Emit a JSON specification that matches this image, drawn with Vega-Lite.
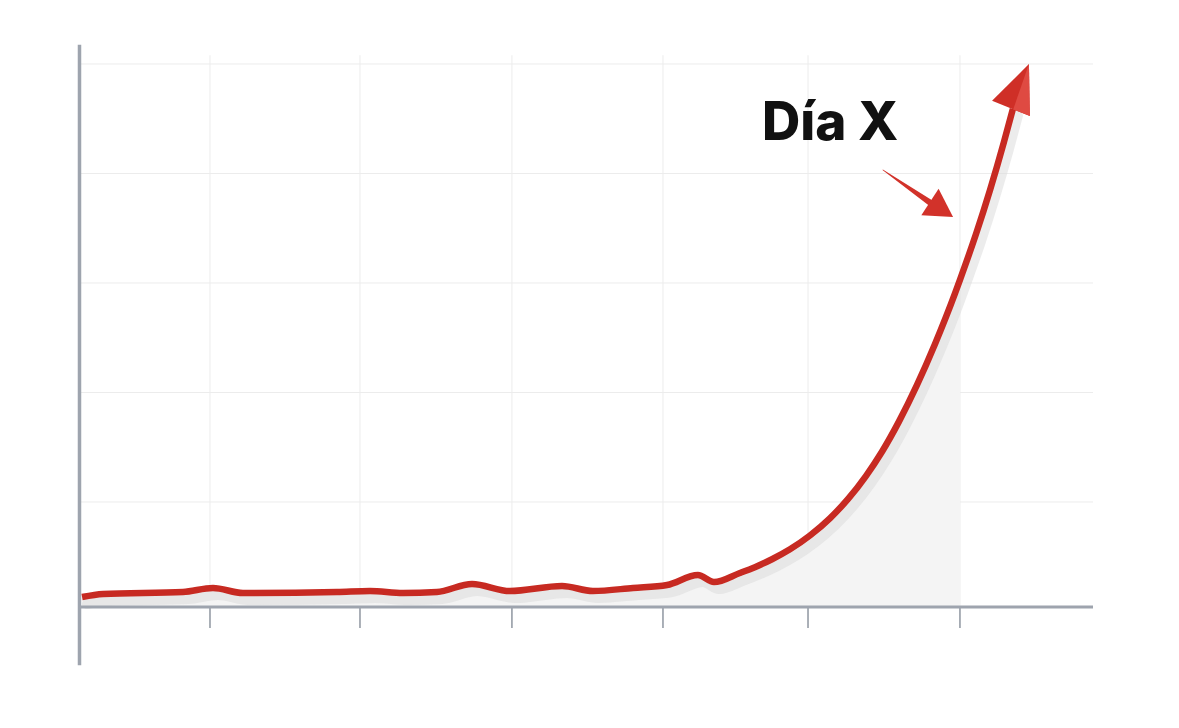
{
  "$schema": "https://vega.github.io/schema/vega-lite/v6.json",
  "width": 1014,
  "height": 620,
  "autosize": {"type": "none"},
  "padding": {"left": 79, "top": 45, "right": 86, "bottom": 63},
  "background": "#ffffff",
  "config": {"view": {"stroke": null}},
  "datasets": {
    "curve": [
      {"x": 0.147, "y": 0.132}, {"x": 0.287, "y": 0.160}, {"x": 0.820, "y": 0.178},
      {"x": 1.020, "y": 0.215}, {"x": 1.220, "y": 0.169}, {"x": 1.847, "y": 0.178},
      {"x": 2.067, "y": 0.187}, {"x": 2.287, "y": 0.169}, {"x": 2.513, "y": 0.178},
      {"x": 2.747, "y": 0.251}, {"x": 3.000, "y": 0.187}, {"x": 3.347, "y": 0.233},
      {"x": 3.553, "y": 0.187}, {"x": 3.820, "y": 0.215}, {"x": 4.047, "y": 0.242},
      {"x": 4.253, "y": 0.333}, {"x": 4.360, "y": 0.269}, {"x": 4.533, "y": 0.352},
      {"x": 4.633, "y": 0.405}, {"x": 4.747, "y": 0.477}, {"x": 4.867, "y": 0.568},
      {"x": 5.000, "y": 0.694}, {"x": 5.133, "y": 0.851}, {"x": 5.253, "y": 1.026},
      {"x": 5.373, "y": 1.237}, {"x": 5.480, "y": 1.459}, {"x": 5.593, "y": 1.734},
      {"x": 5.713, "y": 2.067}, {"x": 5.833, "y": 2.441}, {"x": 5.967, "y": 2.905},
      {"x": 6.000, "y": 3.029}, {"x": 6.107, "y": 3.447}, {"x": 6.200, "y": 3.847},
      {"x": 6.293, "y": 4.287}, {"x": 6.353, "y": 4.591}
    ],
    "hgrid": [{"y": 1}, {"y": 2}, {"y": 3}, {"y": 4}, {"y": 5}],
    "vgrid": [{"x": 1.0}, {"x": 2.0}, {"x": 3.013}, {"x": 4.02}, {"x": 4.987}, {"x": 6.0}],
    "label": [{"x": 4.68, "y": 4.306, "text": "Día X"}],
    "pointer": [{"x": 5.487, "y": 4.032, "w": 0.8}, {"x": 5.8, "y": 3.735, "w": 6}],
    "pointerHead": [{"x": 5.877, "y": 3.671}],
    "mainHead": [{"x": 6.4, "y": 4.797}]
  },
  "layer": [
    {
      "data": {"name": "hgrid"},
      "mark": {"type": "rule", "stroke": "#ececec", "strokeWidth": 1},
      "encoding": {
        "y": {"field": "y", "type": "quantitative", "scale": {"domain": [-0.4886, 5.1735], "nice": false, "zero": false}, "axis": null},
        "x": {"datum": 0.14, "type": "quantitative", "scale": {"domain": [0.1267, 6.887], "nice": false, "zero": false}, "axis": null},
        "x2": {"datum": 6.887}
      }
    },
    {
      "data": {"name": "vgrid"},
      "mark": {"type": "rule", "stroke": "#ececec", "strokeWidth": 1},
      "encoding": {
        "x": {"field": "x", "type": "quantitative"},
        "y": {"datum": 0.04, "type": "quantitative"},
        "y2": {"datum": 5.08}
      }
    },
    {
      "data": {"name": "curve"},
      "transform": [{"filter": "datum.x <= 6"}],
      "mark": {"type": "area", "fill": "#f4f4f4", "interpolate": "monotone"},
      "encoding": {
        "x": {"field": "x", "type": "quantitative"},
        "y": {"field": "y", "type": "quantitative"},
        "y2": {"datum": 0.04}
      }
    },
    {
      "data": {"name": "curve"},
      "mark": {"type": "line", "stroke": "#dadada", "strokeWidth": 10, "opacity": 0.5, "xOffset": 5, "yOffset": 7, "strokeCap": "round", "strokeJoin": "round", "interpolate": "monotone"},
      "encoding": {
        "x": {"field": "x", "type": "quantitative"},
        "y": {"field": "y", "type": "quantitative"},
        "order": {"field": "x", "type": "quantitative"}
      }
    },
    {
      "data": {"name": "vgrid"},
      "mark": {"type": "rule", "stroke": "#8f96a0", "strokeWidth": 1.5},
      "encoding": {
        "x": {"field": "x", "type": "quantitative"},
        "y": {"datum": 0.04, "type": "quantitative"},
        "y2": {"datum": -0.15}
      }
    },
    {
      "data": {"values": [{}]},
      "mark": {"type": "rule", "stroke": "#9ea4ae", "strokeWidth": 3},
      "encoding": {
        "x": {"datum": 0.13, "type": "quantitative"},
        "x2": {"datum": 6.887},
        "y": {"datum": 0.04, "type": "quantitative"}
      }
    },
    {
      "data": {"values": [{}]},
      "mark": {"type": "rule", "stroke": "#9ea4ae", "strokeWidth": 3.5},
      "encoding": {
        "x": {"datum": 0.13, "type": "quantitative"},
        "y": {"datum": -0.49, "type": "quantitative"},
        "y2": {"datum": 5.175}
      }
    },
    {
      "data": {"name": "curve"},
      "mark": {"type": "line", "stroke": "#c72a22", "strokeWidth": 6.5, "strokeCap": "butt", "strokeJoin": "round", "interpolate": "monotone"},
      "encoding": {
        "x": {"field": "x", "type": "quantitative"},
        "y": {"field": "y", "type": "quantitative"},
        "order": {"field": "x", "type": "quantitative"}
      }
    },
    {
      "data": {"name": "mainHead"},
      "mark": {"type": "point", "shape": "M0,-1L-0.85,1L0.85,1Z", "size": 2304, "angle": 22, "filled": true, "fill": "#cf2f27", "opacity": 1, "strokeWidth": 0},
      "encoding": {
        "x": {"field": "x", "type": "quantitative"},
        "y": {"field": "y", "type": "quantitative"}
      }
    },
    {
      "data": {"name": "mainHead"},
      "mark": {"type": "point", "shape": "M0,-1L0.1,1L0.85,1Z", "size": 2304, "angle": 22, "filled": true, "fill": "#df4a42", "opacity": 1, "strokeWidth": 0},
      "encoding": {
        "x": {"field": "x", "type": "quantitative"},
        "y": {"field": "y", "type": "quantitative"}
      }
    },
    {
      "data": {"name": "pointer"},
      "mark": {"type": "trail", "color": "#d2322a"},
      "encoding": {
        "x": {"field": "x", "type": "quantitative"},
        "y": {"field": "y", "type": "quantitative"},
        "size": {"field": "w", "type": "quantitative", "scale": null, "legend": null},
        "order": {"field": "x", "type": "quantitative"}
      }
    },
    {
      "data": {"name": "pointerHead"},
      "mark": {"type": "point", "shape": "M0,-0.86L-0.99,0.86L0.99,0.86Z", "size": 1024, "angle": 123, "filled": true, "fill": "#d2322a", "opacity": 1, "strokeWidth": 0},
      "encoding": {
        "x": {"field": "x", "type": "quantitative"},
        "y": {"field": "y", "type": "quantitative"}
      }
    },
    {
      "data": {"name": "label"},
      "mark": {"type": "text", "font": "Inter", "fontWeight": 800, "fontSize": 53, "align": "left", "baseline": "alphabetic", "color": "#111111"},
      "encoding": {
        "x": {"field": "x", "type": "quantitative"},
        "y": {"field": "y", "type": "quantitative"},
        "text": {"field": "text"}
      }
    }
  ]
}
